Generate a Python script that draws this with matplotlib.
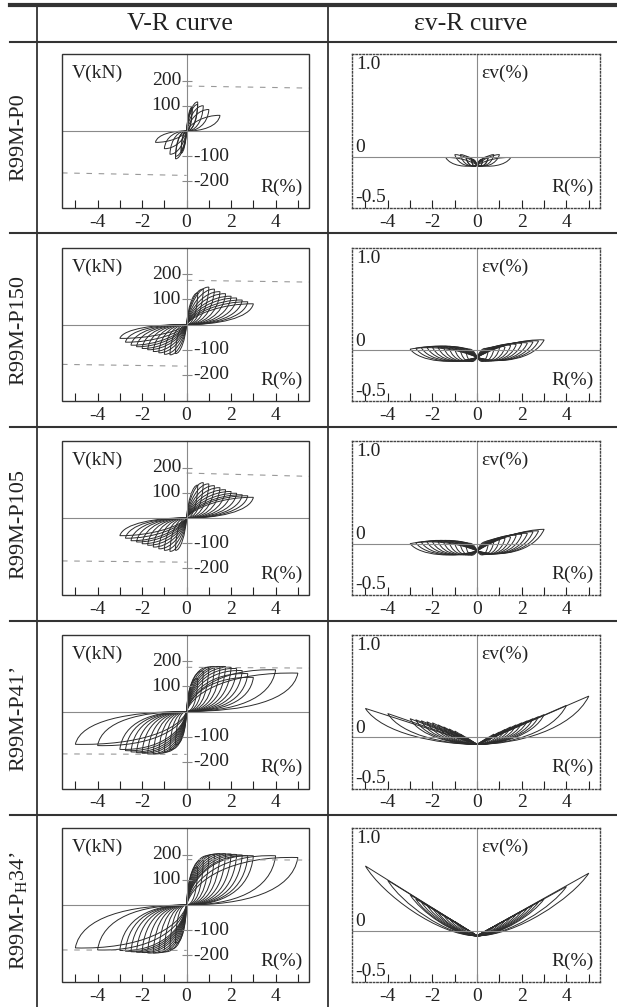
import matplotlib
matplotlib.use("Agg")
import matplotlib.pyplot as plt
from matplotlib.path import Path
from matplotlib.patches import PathPatch, Rectangle
from matplotlib.lines import Line2D

plt.rcParams['font.family'] = ['Liberation Serif', 'DejaVu Serif']
plt.rcParams['mathtext.fontset'] = 'stix'

# ---- data ----
specimens = ["R99M-P0", "R99M-P150", "R99M-P105", "R99M-P41\u2019",
             r"R99M-P$_{\mathregular{H}}$34" + "\u2019"]

# cycle tips: drift R (%), shear V (kN), volumetric strain ev (%)
p0_r_pos = [0.25, 0.25, 0.5, 0.5, 0.75, 1.0, 1.5]
p0_v_pos = [95, 88, 115, 105, 100, 85, 62]
p0_e_pos = [-0.03, -0.04, 0.0, -0.01, 0.02, 0.02, -0.01]
p0_r_neg = [-0.25, -0.25, -0.5, -0.5, -0.75, -1.0, -1.4]
p0_v_neg = [-88, -80, -110, -100, -92, -70, -45]
p0_e_neg = [-0.03, -0.04, 0.0, -0.01, 0.02, 0.02, -0.01]

p150_r_pos = [0.5, 0.75, 1.0, 1.25, 1.5, 1.75, 2.0, 2.25, 2.5, 2.75, 3.0]
p150_v_pos = [125, 140, 148, 140, 130, 122, 112, 105, 97, 90, 82]
p150_e_pos = [0.0, 0.01, 0.02, 0.03, 0.045, 0.055, 0.065, 0.07, 0.08, 0.09, 0.10]
p150_r_neg = [-0.5, -0.75, -1.0, -1.25, -1.5, -1.75, -2.0, -2.25, -2.5, -2.75, -3.0]
p150_v_neg = [-115, -120, -118, -112, -107, -100, -95, -88, -82, -70, -55]
p150_e_neg = [-0.01, 0.0, 0.01, 0.02, 0.025, 0.03, 0.03, 0.03, 0.025, 0.02, 0.01]

p105_r_pos = [0.5, 0.75, 1.0, 1.25, 1.5, 1.75, 2.0, 2.25, 2.5, 2.75, 3.0]
p105_v_pos = [130, 140, 135, 128, 120, 112, 105, 98, 92, 88, 82]
p105_e_pos = [0.0, 0.02, 0.035, 0.05, 0.065, 0.08, 0.09, 0.10, 0.115, 0.125, 0.14]
p105_r_neg = [-0.5, -0.75, -1.0, -1.25, -1.5, -1.75, -2.0, -2.25, -2.5, -2.75, -3.0]
p105_v_neg = [-128, -132, -128, -122, -115, -108, -102, -95, -90, -80, -70]
p105_e_neg = [-0.02, -0.01, 0.0, 0.01, 0.015, 0.02, 0.02, 0.02, 0.015, 0.01, 0.0]

p41_r_pos = [0.5, 0.75, 1.0, 1.25, 1.5, 1.75, 2.0, 2.25, 2.5, 2.75, 3.0, 4.0, 5.0]
p41_v_pos = [130, 160, 175, 178, 178, 178, 175, 170, 162, 150, 135, 165, 152]
p41_e_pos = [0.0, 0.03, 0.05, 0.075, 0.1, 0.12, 0.14, 0.16, 0.18, 0.2, 0.22, 0.31, 0.40]
p41_r_neg = [-0.5, -0.75, -1.0, -1.25, -1.5, -1.75, -2.0, -2.25, -2.5, -2.75, -3.0, -4.0, -5.0]
p41_v_neg = [-130, -150, -160, -165, -168, -168, -165, -163, -160, -155, -150, -135, -130]
p41_e_neg = [0.0, 0.03, 0.06, 0.08, 0.1, 0.12, 0.14, 0.15, 0.16, 0.17, 0.18, 0.23, 0.28]

ph34_r_pos = [0.5, 0.75, 1.0, 1.25, 1.5, 1.75, 2.0, 2.25, 2.5, 2.75, 3.0, 4.0, 5.0]
ph34_v_pos = [150, 180, 195, 200, 203, 203, 202, 200, 198, 195, 195, 195, 188]
ph34_e_pos = [0.01, 0.04, 0.07, 0.1, 0.13, 0.16, 0.19, 0.22, 0.25, 0.28, 0.31, 0.43, 0.56]
ph34_r_neg = [-0.5, -0.75, -1.0, -1.25, -1.5, -1.75, -2.0, -2.25, -2.5, -2.75, -3.0, -4.0, -5.0]
ph34_v_neg = [-150, -175, -185, -188, -190, -190, -188, -187, -185, -183, -180, -178, -170]
ph34_e_neg = [0.02, 0.05, 0.09, 0.12, 0.15, 0.18, 0.22, 0.25, 0.28, 0.31, 0.35, 0.49, 0.63]

# ev value at R = 0 where the loops meet
ev_base = [-0.08, -0.07, -0.07, -0.07, -0.05]

# dashed strength lines: positive (at R=0, at right edge), negative (at left edge, at R=0)
vu_pos = [(178, 170), (175, 168), (178, 165), (175, 172), (180, 178)]
vu_neg = [(-166, -176), (-158, -165), (-170, -175), (-168, -170), (-178, -180)]

vr_ticks = [200, 100, -100, -200]
r_ticks = [-4, -2, 0, 2, 4]

# ---- styles ----
LEAF = dict(u1=(0.10, 0.50), u2=(0.55, 1.02), l1=(0.95, 0.30), l2=(0.45, -0.02))
FULL = dict(u1=(0.06, 0.55), u2=(0.42, 1.04), l1=(0.95, 0.28), l2=(0.52, 0.00))
vr_shape = [LEAF, LEAF, LEAF, FULL, FULL]
ev_bulge = [0.03, 0.06, 0.06, 0.0, 0.0]
ev_sag = [0.03, 0.07, 0.07, 0.0, 0.0]
ev_lower = [0.3, 0.3, 0.3, 0.3, 0.6]
LOOP_C = '#2b2b2b'
AX_C = '#8a8a8a'

W, H = 617, 1007
XLIM = (-5.6, 5.5)


def box(x0, y0, x1, y1):
    return [x0 / W, 1 - y1 / H, (x1 - x0) / W, (y1 - y0) / H]


def vr_loop(r, v, s):
    verts = [(0, 0),
             (s['u1'][0] * r, s['u1'][1] * v), (s['u2'][0] * r, s['u2'][1] * v), (r, v),
             (s['l1'][0] * r, s['l1'][1] * v), (s['l2'][0] * r, s['l2'][1] * v), (0, 0)]
    codes = [Path.MOVETO] + [Path.CURVE4] * 6
    return Path(verts, codes)


def ev_loop(r, e, e0, bulge, sag, lower):
    d = e - e0
    verts = [(0, e0),
             (0.3 * r, e0 + 0.3 * d + bulge), (0.7 * r, e0 + 0.7 * d + bulge), (r, e),
             (0.85 * r, e0 + lower * d - sag), (0.35 * r, e0 - sag), (0, e0)]
    codes = [Path.MOVETO] + [Path.CURVE4] * 6
    return Path(verts, codes)


def setup_x(ax):
    ax.set_xlim(*XLIM)
    ax.set_xticks(range(-5, 6))
    ax.set_xticklabels([str(t) if t in r_ticks else '' for t in range(-5, 6)])
    ax.tick_params(axis='x', direction='in', length=6, width=0.8, labelsize=14,
                   pad=4, colors='#222', top=False)


fig = plt.figure(figsize=(W / 100, H / 100), dpi=100)


# table rules
def hline(y, x0, x1, lw):
    fig.add_artist(Line2D([x0 / W, x1 / W], [1 - y / H, 1 - y / H], lw=lw, color='#333'))


def vline(x, y0, y1, lw):
    fig.add_artist(Line2D([x / W, x / W], [1 - y0 / H, 1 - y1 / H], lw=lw, color='#333'))


hline(5, 10, W, 3.0)
hline(42, 10, W, 1.5)
row_lines = [42, 233, 427, 621, 815, 1007]
for y in row_lines[1:-1]:
    hline(y, 10, W, 1.5)
vline(37, 4, H, 1.3)
vline(328, 4, H, 1.3)

fig.text(180 / W, 1 - 24 / H, "V-R curve", ha='center', va='center', fontsize=18.5, color='#222')
fig.text(471 / W, 1 - 24 / H, "\u03b5v-R curve", ha='center', va='center', fontsize=18.5, color='#222')

data = [
    (p0_r_pos, p0_v_pos, p0_e_pos, p0_r_neg, p0_v_neg, p0_e_neg),
    (p150_r_pos, p150_v_pos, p150_e_pos, p150_r_neg, p150_v_neg, p150_e_neg),
    (p105_r_pos, p105_v_pos, p105_e_pos, p105_r_neg, p105_v_neg, p105_e_neg),
    (p41_r_pos, p41_v_pos, p41_e_pos, p41_r_neg, p41_v_neg, p41_e_neg),
    (ph34_r_pos, ph34_v_pos, ph34_e_pos, ph34_r_neg, ph34_v_neg, ph34_e_neg),
]

for i, name in enumerate(specimens):
    top = 54 + 193.5 * i
    bot = top + 154
    fig.text(19 / W, 1 - (row_lines[i] + row_lines[i + 1]) / 2 / H, name, rotation=90,
             ha='center', va='center', fontsize=16, color='#222')
    r_pos, v_pos, e_pos, r_neg, v_neg, e_neg = data[i]

    # V-R panel
    ax = fig.add_axes(box(62, top, 309, bot))
    setup_x(ax)
    ax.set_ylim(-305, 305)
    for s in ['top', 'right', 'bottom']:
        ax.spines[s].set_visible(False)
    ax.spines['left'].set_position(('data', 0))
    ax.spines['left'].set_color(AX_C)
    ax.spines['left'].set_linewidth(0.8)
    ax.set_yticks(vr_ticks)
    ax.tick_params(axis='y', direction='inout', length=7, width=0.8, labelleft=False,
                   colors=AX_C)
    ax.add_patch(Rectangle((0, 0), 1, 1, transform=ax.transAxes, fill=False,
                           lw=1.0, ec='#333', clip_on=False, zorder=5))
    ax.axhline(0, color=AX_C, lw=0.8)
    for t in vr_ticks:
        if t > 0:
            ax.text(-0.25, t, str(t), ha='right', va='center', fontsize=14, color='#222')
        else:
            ax.text(0.3, t, str(t), ha='left', va='center', fontsize=14, color='#222')
    ax.text(0.04, 0.93, "V(kN)", transform=ax.transAxes, ha='left', va='top',
            fontsize=14, color='#222')
    ax.text(0.975, 0.08, "R(%)", transform=ax.transAxes, ha='right', va='bottom',
            fontsize=14, color='#222')
    ax.plot([0, XLIM[1]], vu_pos[i], ls=(0, (5, 6)), color='#999', lw=0.8)
    ax.plot([XLIM[0], 0], vu_neg[i], ls=(0, (5, 6)), color='#999', lw=0.8)
    for r, v in zip(r_pos + r_neg, v_pos + v_neg):
        ax.add_patch(PathPatch(vr_loop(r, v, vr_shape[i]), fill=False, ec=LOOP_C, lw=0.7))

    # ev-R panel
    ax2 = fig.add_axes(box(352, top, 600, bot))
    setup_x(ax2)
    ax2.set_ylim(-0.5, 1.0)
    ax2.set_yticks([])
    for s in ax2.spines.values():
        s.set_linestyle((0, (1, 1.5)))
        s.set_linewidth(1.0)
        s.set_color('#444')
    ax2.axhline(0, color=AX_C, lw=0.8)
    ax2.axvline(0, color=AX_C, lw=0.8)
    ax2.text(0.015, 0.985, "1.0", transform=ax2.transAxes, ha='left', va='top',
             fontsize=14, color='#222')
    ax2.text(0.015, 0.335, "0", transform=ax2.transAxes, ha='left', va='bottom',
             fontsize=14, color='#222')
    ax2.text(0.015, 0.01, "-0.5", transform=ax2.transAxes, ha='left', va='bottom',
             fontsize=14, color='#222')
    ax2.text(0.52, 0.93, "\u03b5v(%)", transform=ax2.transAxes, ha='left', va='top',
             fontsize=14, color='#222')
    ax2.text(0.975, 0.08, "R(%)", transform=ax2.transAxes, ha='right', va='bottom',
             fontsize=14, color='#222')
    for r, e in zip(r_pos + r_neg, e_pos + e_neg):
        ax2.add_patch(PathPatch(ev_loop(r, e, ev_base[i], ev_bulge[i], ev_sag[i], ev_lower[i]),
                                fill=False, ec=LOOP_C, lw=0.7))

fig.savefig("out.png", dpi=100)
